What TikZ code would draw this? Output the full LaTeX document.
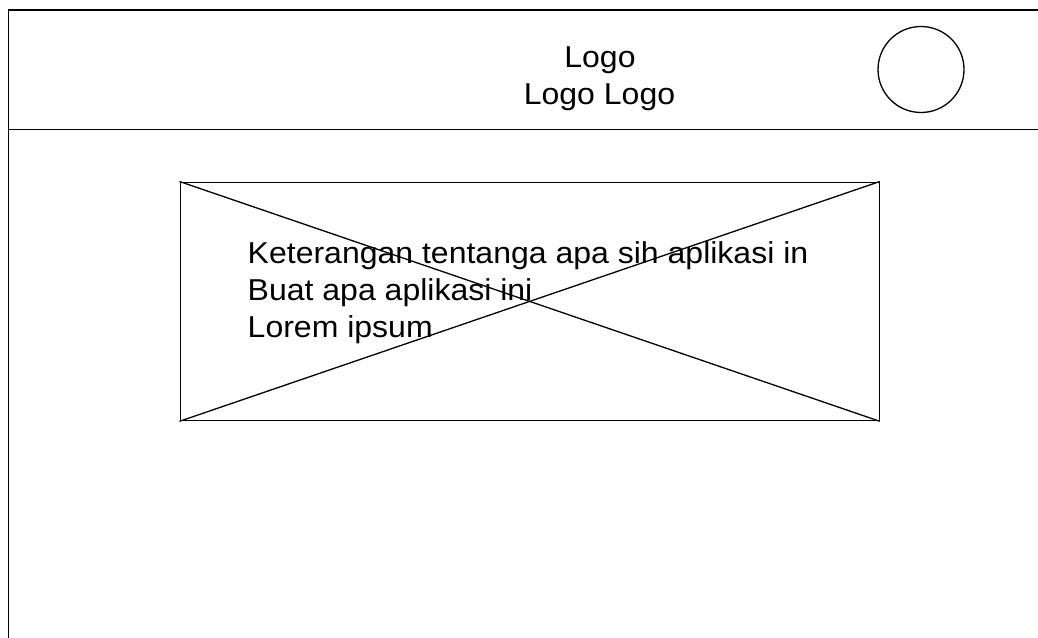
\documentclass[tikz,border=0pt]{standalone}
\usepackage{graphicx}
\usepackage{fontspec}
\setmainfont{Liberation Sans}
% slightly widened sans text
\newcommand{\widetext}[1]{\scalebox{1.06}[1]{#1}}
\begin{document}
\begin{tikzpicture}[x=1pt,y=-1pt,
  frame/.style={draw=black,line width=1.3pt},
  label/.style={inner sep=0pt,font=\fontsize{30.2}{37}\selectfont,text=black}]
\useasboundingbox (0,0) rectangle (1038,637);
\clip (0,0) rectangle (1038,637);
\fill[white] (0,0) rectangle (1038,637);
% page frame and header bar
\draw[frame] (8.5,10) rectangle (1060,660);
\coordinate (hl) at (8.5,129.5);
\coordinate (hr) at (1060,129.5);
\draw[frame] (hl) -- (hr);
% header title, cut off at the bottom
\begin{scope}
  \clip (300,20) rectangle (850,111);
  \node[label,anchor=base] (logo1) at (600,67.3) {\widetext{Logo}};
  \node[label,anchor=base] (logo2) at (599.5,104) {\widetext{Logo Logo}};
\end{scope}
% avatar circle
\node[frame,circle,minimum size=86pt,inner sep=0pt] (avatar) at (921,69.5) {};
% image placeholder with crossed diagonals
\node[frame,rectangle,inner sep=0pt,minimum width=699pt,minimum height=238.5pt,anchor=north west] (img) at (179.5,181.5) {};
\draw[line width=1.3pt] (img.north west) -- (img.south east);
\draw[line width=1.3pt] (img.south west) -- (img.north east);
% description text
\node[label,anchor=base west] (t1) at (247.5,263.3) {\widetext{Keterangan tentanga apa sih aplikasi in}};
\node[label,anchor=base west] (t2) at (247.5,300.5) {\widetext{Buat apa aplikasi ini}};
\node[label,anchor=base west] (t3) at (247.5,337.7) {\widetext{Lorem ipsum}};
\end{tikzpicture}
\end{document}
